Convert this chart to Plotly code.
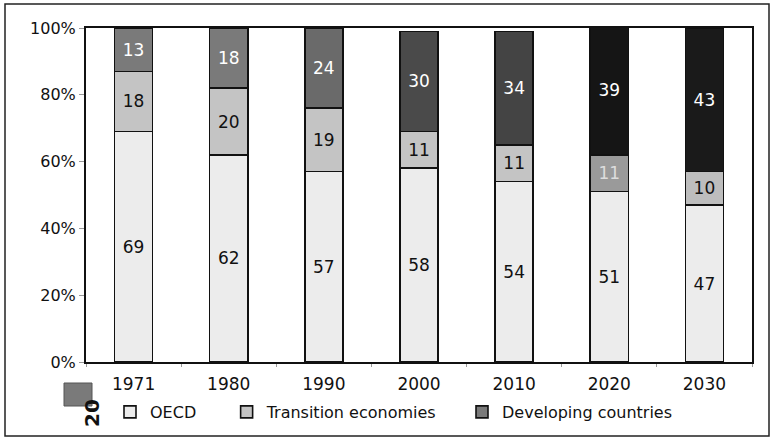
import plotly.graph_objects as go

years = ["1971", "1980", "1990", "2000", "2010", "2020", "2030"]
oecd = [69, 62, 57, 58, 54, 51, 47]
transition = [18, 20, 19, 11, 11, 11, 10]
developing = [13, 18, 24, 30, 34, 39, 43]
series_names = ["OECD", "Transition economies", "Developing countries"]

# Figure geometry (pixels)
W, H = 773, 438
ML, MR, MT, MB = 86, 21, 28, 76
PW, PH = W - ML - MR, H - MT - MB


def px(x):
    return (x - ML) / PW


def py(y):
    return (H - MB - y) / PH


font = "DejaVu Sans"
dev_colors = ["#7a7a7a", "#7a7a7a", "#6a6a6a", "#4a4a4a", "#444444", "#151515", "#1a1a1a"]
trans_colors = ["#c4c4c4"] * 5 + ["#9a9a9a", "#bdbdbd"]
trans_text = ["#111"] * 5 + ["#dddddd", "#111"]

# extra padding after legend entries to spread them out
pad = ["\u00a0" * 5, "\u00a0" * 4, ""]

fig = go.Figure()
fig.add_bar(
    name=series_names[0] + pad[0], x=years, y=oecd, text=[str(v) for v in oecd],
    marker=dict(color="#ececec", line=dict(color="#111", width=1.6)),
    textfont=dict(color="#111", size=17, family=font),
)
fig.add_bar(
    name=series_names[1] + pad[1], x=years, y=transition, text=[str(v) for v in transition],
    marker=dict(color=trans_colors, line=dict(color="#111", width=1.6)),
    textfont=dict(color=trans_text, size=17, family=font),
)
fig.add_bar(
    name=series_names[2] + pad[2], x=years, y=developing, text=[str(v) for v in developing],
    marker=dict(color=dev_colors, line=dict(color="#111", width=1.6)),
    textfont=dict(color="white", size=17, family=font),
)
fig.update_traces(textposition="inside", insidetextanchor="middle",
                  constraintext="none", textangle=0)

fig.update_layout(
    width=W, height=H,
    margin=dict(l=ML, r=MR, t=MT, b=MB, autoexpand=False),
    barmode="stack", bargap=0.6,
    paper_bgcolor="white", plot_bgcolor="white",
    font=dict(family=font, size=14, color="#111"),
    xaxis=dict(showline=True, linecolor="#111", linewidth=2, mirror=True,
               ticks="outside", tickson="boundaries", ticklen=3, tickcolor="#999",
               tickfont=dict(size=17), range=[-0.5, 6.5], ticklabelstandoff=6),
    yaxis=dict(range=[0, 100], tickvals=[0, 20, 40, 60, 80, 100],
               ticktext=["0%", "20%", "40%", "60%", "80%", "100%"],
               showline=True, linecolor="#111", linewidth=2, mirror=True,
               ticks="outside", ticklen=5, tickcolor="#999",
               showgrid=False, zeroline=False, tickfont=dict(size=16)),
    legend=dict(orientation="h", x=px(110), y=py(412), xanchor="left", yanchor="middle",
                font=dict(size=16), traceorder="normal", itemwidth=30,
                bgcolor="rgba(0,0,0,0)"),
    showlegend=True,
)

# Outer frame of the chart
fig.add_shape(type="rect", xref="paper", yref="paper",
              x0=px(5), x1=px(769), y0=py(436), y1=py(4),
              line=dict(color="#222", width=1.5), fillcolor="rgba(0,0,0,0)")
# Clipped fragment at lower left
fig.add_shape(type="rect", xref="paper", yref="paper",
              x0=px(64), x1=px(92), y0=py(406), y1=py(383),
              line=dict(color="#555", width=1), fillcolor="#7a7a7a")
fig.add_annotation(text="<b>20</b>", xref="paper", yref="paper",
                   x=px(78), y=py(429), textangle=-90, showarrow=False,
                   font=dict(size=20, color="#111"))

fig.write_html("out.html")
